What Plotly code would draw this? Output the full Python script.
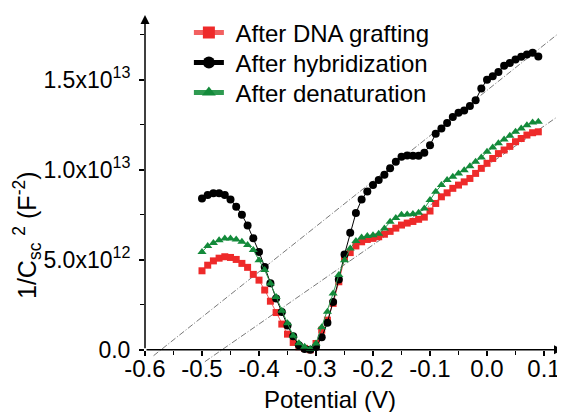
import plotly.graph_objects as go

# Potential (V)
potential = [-0.50, -0.49, -0.48, -0.47, -0.46, -0.45, -0.44, -0.43, -0.42, -0.41,
             -0.40, -0.39, -0.38, -0.37, -0.36, -0.35, -0.34, -0.33, -0.32, -0.31,
             -0.30, -0.29, -0.28, -0.27, -0.26, -0.25, -0.24, -0.23, -0.22, -0.21,
             -0.20, -0.19, -0.18, -0.17, -0.16, -0.15, -0.14, -0.13, -0.12, -0.11,
             -0.10, -0.09, -0.08, -0.07, -0.06, -0.05, -0.04, -0.03, -0.02, -0.01,
             0.00, 0.01, 0.02, 0.03, 0.04, 0.05, 0.06, 0.07, 0.08, 0.09]

# 1/Csc^2 in units of 1e12 F^-2
dna_grafting = [4.39, 4.70, 4.94, 5.09, 5.17, 5.13, 5.02, 4.80, 4.58, 4.19,
                3.87, 3.32, 2.70, 2.07, 1.43, 0.87, 0.41, 0.17, 0.08, 0.00,
                0.35, 1.09, 1.65, 2.58, 3.78, 5.08, 5.40, 5.77, 6.00, 6.13,
                6.19, 6.28, 6.42, 6.58, 6.76, 6.93, 7.04, 7.13, 7.25, 7.37,
                7.71, 8.13, 8.50, 8.72, 8.97, 9.15, 9.33, 9.52, 9.80, 10.08,
                10.36, 10.63, 10.90, 11.10, 11.30, 11.56, 11.74, 11.93, 12.06, 12.11]

hybridization = [8.40, 8.60, 8.70, 8.70, 8.60, 8.35, 7.95, 7.50, 6.90, 6.20,
                 5.44, 4.60, 3.70, 2.85, 2.10, 1.35, 0.75, 0.25, 0.05, 0.00,
                 0.15, 0.70, 1.50, 2.65, 3.90, 5.30, 6.50, 7.60, 8.35, 8.80,
                 9.15, 9.43, 9.72, 10.08, 10.45, 10.72, 10.80, 10.78, 10.78, 10.95,
                 11.37, 12.00, 12.30, 12.60, 12.94, 13.17, 13.30, 13.54, 13.87, 14.52,
                 15.00, 15.20, 15.44, 15.78, 15.94, 16.13, 16.28, 16.41, 16.50, 16.30]

denaturation = [5.44, 5.76, 5.94, 6.09, 6.19, 6.19, 6.13, 6.00, 5.82, 5.54,
                4.98, 4.43, 3.69, 2.94, 2.17, 1.47, 0.78, 0.36, 0.17, 0.05,
                0.35, 1.25, 2.11, 3.13, 4.15, 4.98, 5.63, 6.05, 6.24, 6.32,
                6.37, 6.45, 6.74, 7.11, 7.32, 7.50, 7.52, 7.55, 7.62, 7.85,
                8.32, 8.78, 9.15, 9.43, 9.61, 9.80, 9.98, 10.20, 10.45, 10.69,
                11.00, 11.24, 11.47, 11.69, 11.89, 12.11, 12.30, 12.48, 12.63, 12.67]

SCALE = 1e12

# Mott-Schottky linear fits: (x-intercept V, slope in 1e12 F^-2 per V, x span)
fit1_v0, fit1_slope, fit1_x = -0.572, 25.2, [-0.585, 0.137]
fit2_v0, fit2_slope, fit2_x = -0.465, 22.0, [-0.495, 0.137]

x_tickvals = [-0.6, -0.5, -0.4, -0.3, -0.2, -0.1, 0.0, 0.1]
x_ticktext = ["-0.6", "-0.5", "-0.4", "-0.3", "-0.2", "-0.1", "0.0", "0.1"]
y_tickvals = [0, 5e12, 1e13, 1.5e13]
y_ticktext = ["0.0", "5.0x10<sup>12</sup>", "1.0x10<sup>13</sup>", "1.5x10<sup>13</sup>"]

FONT = "Liberation Sans, Arial, sans-serif"
FS = 24
X_MIN, X_MAX = -0.6, 0.1333
Y_MIN, Y_MAX = -0.733e12, 18.6e12
NB = "\u00a0"

# page body has an 8px default margin: plot area spans page x 145..563, y 15..363
PAGE_OFF = 8
PL, PT, PW, PH = 145, 15, 418, 348


def px(xp):
    return (xp - PL) / PW


def py(yp):
    return (PT + PH - yp) / PH


fig = go.Figure()

for v0, slope, xs in [(fit1_v0, fit1_slope, fit1_x), (fit2_v0, fit2_slope, fit2_x)]:
    fig.add_trace(go.Scatter(
        x=xs, y=[slope * (x - v0) * SCALE for x in xs], mode="lines",
        line=dict(color="#555555", width=0.8, dash="6px,2px,1px,2px"),
        showlegend=False, hoverinfo="skip"))

fig.add_trace(go.Scatter(
    x=potential, y=[v * SCALE for v in dna_grafting], mode="lines+markers",
    name=NB + "After DNA grafting", legend="legend",
    line=dict(color="#F26060", width=1),
    marker=dict(symbol="square", size=7, color="#EE2A2A")))
fig.add_trace(go.Scatter(
    x=potential, y=[v * SCALE for v in hybridization], mode="lines+markers",
    name=NB + "After hybridization", legend="legend2",
    line=dict(color="#000000", width=1),
    marker=dict(symbol="circle", size=8, color="#000000")))
fig.add_trace(go.Scatter(
    x=potential, y=[v * SCALE for v in denaturation], mode="lines+markers",
    name=NB + "After denaturation", legend="legend3",
    line=dict(color="#2E9A50", width=1),
    marker=dict(symbol="triangle-up", size=8, color="#138A3A")))

zero_pos = (0 - Y_MIN) / (Y_MAX - Y_MIN)

LEG_X = 0.105


def leg(row_y):
    return dict(x=LEG_X, y=py(row_y), xanchor="left", yanchor="middle",
                bgcolor="rgba(0,0,0,0)", font=dict(size=FS), itemsizing="constant")


W, H = 565 - PAGE_OFF, 412 - PAGE_OFF
fig.update_layout(
    width=W, height=H,
    margin=dict(l=PL - PAGE_OFF, r=W - (PL - PAGE_OFF) - PW, t=PT - PAGE_OFF,
                b=H - (PT - PAGE_OFF) - PH, autoexpand=False),
    paper_bgcolor="white", plot_bgcolor="white",
    font=dict(family=FONT, size=FS, color="black"),
    showlegend=True,
    legend=leg(33), legend2=leg(63), legend3=leg(93),
    xaxis=dict(range=[X_MIN, X_MAX], showgrid=False, zeroline=False, showline=False,
               anchor="free", position=zero_pos, automargin=False,
               tickvals=x_tickvals, ticktext=x_ticktext,
               ticks="outside", ticklen=5, tickwidth=1.5, tickcolor="black",
               ticklabelstandoff=-8,
               minor=dict(ticks="outside", ticklen=4, tickwidth=1.2, dtick=0.05,
                          tickcolor="black", showgrid=False),
               tickfont=dict(size=FS)),
    yaxis=dict(range=[Y_MIN, Y_MAX], showgrid=False, zeroline=False, showline=False,
               automargin=False,
               tickvals=y_tickvals, ticktext=y_ticktext,
               ticks="outside", ticklen=5, tickwidth=1.5, tickcolor="black",
               ticklabelstandoff=4,
               minor=dict(ticks="outside", ticklen=4, tickwidth=1.2,
                          tickvals=[2.5e12, 7.5e12, 1.25e13, 1.75e13],
                          tickcolor="black", showgrid=False),
               tickfont=dict(size=23)),
    annotations=[
        dict(x=X_MIN, y=Y_MAX, ax=X_MIN, ay=0, xref="x", yref="y", axref="x", ayref="y",
             text="", showarrow=True, arrowhead=2, arrowsize=1.2, arrowwidth=1.5,
             arrowcolor="black", standoff=0, startstandoff=0),
        dict(x=X_MAX, y=0, ax=X_MIN, ay=0, xref="x", yref="y", axref="x", ayref="y",
             text="", showarrow=True, arrowhead=2, arrowsize=1.2, arrowwidth=1.5,
             arrowcolor="black", standoff=0, startstandoff=0),
        dict(x=px(330), y=py(399), xref="paper", yref="paper",
             text="Potential (V)", showarrow=False, font=dict(size=FS),
             xanchor="center", yanchor="middle"),
        dict(x=px(27), y=py(235), xref="paper", yref="paper",
             text="1/C<sub>sc</sub>" + NB + "<sup>2</sup> (F<sup>-2</sup>)", showarrow=False,
             textangle=-90, font=dict(size=25),
             xanchor="center", yanchor="middle"),
    ],
)

fig.write_html("out.html")
